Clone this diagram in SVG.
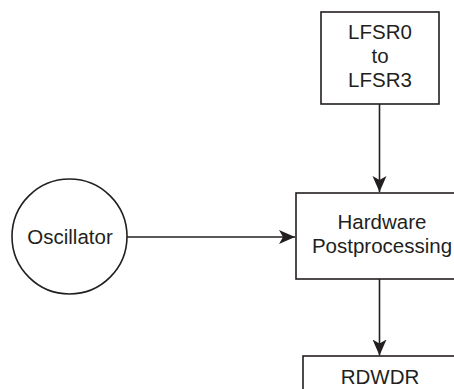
<svg xmlns="http://www.w3.org/2000/svg" width="454" height="389" viewBox="0 0 454 389">
<style>
.box{fill:#fff;stroke:#231f20;stroke-width:1.6}
.lbl{font-family:"Liberation Sans",Arial,sans-serif;font-size:20.5px;fill:#231f20;text-anchor:middle}
.edge{stroke:#231f20;stroke-width:1.6;fill:none}
</style>
<defs>
<marker id="ah" markerUnits="userSpaceOnUse" markerWidth="18" markerHeight="16" refX="16" refY="7" orient="auto">
<path d="M0,0 L16,7 L0,14 L4,7 Z" fill="#231f20"/>
</marker>
</defs>
<rect width="454" height="389" fill="#fff"/>
<g id="connectors">
<line class="edge" x1="379.5" y1="104" x2="379.5" y2="192" marker-end="url(#ah)"/>
<line class="edge" x1="127" y1="237" x2="295" y2="237" marker-end="url(#ah)"/>
<line class="edge" x1="379.5" y1="279" x2="379.5" y2="355.5" marker-end="url(#ah)"/>
</g>
<g id="lfsr">
<rect class="box" x="321" y="12" width="118" height="92"/>
<text class="lbl" x="380" y="39">LFSR0</text>
<text class="lbl" x="380" y="63">to</text>
<text class="lbl" x="380" y="87">LFSR3</text>
</g>
<g id="oscillator">
<circle class="box" cx="69.5" cy="236.5" r="57.5"/>
<text class="lbl" x="70" y="244">Oscillator</text>
</g>
<g id="hardware">
<rect class="box" x="296" y="193" width="170" height="86"/>
<text class="lbl" x="382" y="229">Hardware</text>
<text class="lbl" x="382" y="253">Postprocessing</text>
</g>
<g id="rdwdr">
<rect class="box" x="303" y="356" width="170" height="50"/>
<text class="lbl" x="380" y="384">RDWDR</text>
</g>
</svg>
